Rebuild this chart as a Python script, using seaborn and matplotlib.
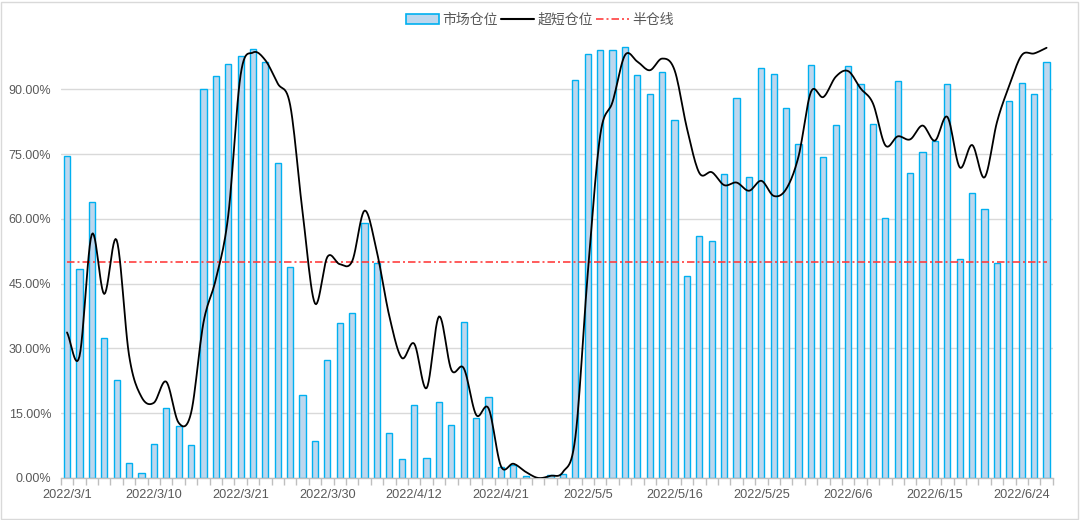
# 市场仓位 vs 超短仓位, 2022/3/1 - 2022/6/28
import matplotlib
matplotlib.use("Agg")
import matplotlib.pyplot as plt
from matplotlib.patches import Patch, Rectangle
from matplotlib.lines import Line2D
from matplotlib.ticker import PercentFormatter, FixedLocator
import seaborn as sns
import pandas as pd
import numpy as np

# trading days (A-share calendar, holidays removed)
holidays = ["2022-04-04", "2022-04-05", "2022-05-02", "2022-05-03", "2022-05-04", "2022-06-03"]
dates = pd.bdate_range("2022-03-01", "2022-06-28", freq="C", holidays=holidays)
date_labels = [f"{d.year}/{d.month}/{d.day}" for d in dates]

# 市场仓位 (%)
market = [74.5, 48.5, 63.8, 32.5, 22.8, 3.4, 1.2, 7.8, 16.2, 12.0,
          7.6, 90.1, 93.1, 95.9, 97.8, 99.4, 96.4, 72.9, 48.8, 19.1,
          8.6, 27.3, 35.9, 38.2, 59.1, 49.8, 10.3, 4.3, 17.0, 4.7,
          17.5, 12.3, 36.0, 14.0, 18.7, 2.6, 2.9, 0.5, 0.0, 0.8,
          0.9, 92.2, 98.2, 99.1, 99.0, 99.8, 93.3, 88.8, 94.0, 82.8,
          46.8, 56.1, 54.9, 70.4, 87.9, 69.8, 95.0, 93.6, 85.7, 77.3,
          95.6, 74.2, 81.8, 95.3, 91.2, 81.9, 60.1, 92.0, 70.7, 75.4,
          78.0, 91.3, 50.7, 66.0, 62.3, 49.8, 87.3, 91.5, 89.0, 96.4]

# 超短仓位 (%)
short_term = [33.7, 28.1, 56.4, 42.6, 55.1, 28.5, 18.8, 17.4, 22.3, 12.8,
              15.0, 35.9, 46.0, 60.7, 93.3, 98.5, 96.7, 91.3, 86.3, 61.5,
              40.4, 51.2, 49.5, 50.2, 61.9, 52.2, 37.4, 27.8, 31.1, 20.8,
              37.4, 25.0, 25.4, 14.6, 16.1, 2.7, 3.3, 1.4, 0.0, 0.5,
              1.4, 9.5, 47.5, 79.3, 87.1, 97.9, 96.4, 94.4, 97.1, 94.4,
              80.9, 70.6, 70.8, 67.8, 68.4, 66.5, 68.8, 65.3, 66.9, 74.5,
              89.4, 88.2, 92.9, 94.2, 90.2, 86.7, 77.0, 79.1, 78.4, 81.6,
              78.1, 83.6, 71.9, 77.1, 69.6, 82.4, 90.9, 97.9, 98.3, 99.6]

half_line = 50.0

df = pd.DataFrame({"date": date_labels,
                   "market": np.array(market) / 100,
                   "short": np.array(short_term) / 100})
df["pos"] = np.arange(len(df))


def smooth(y, n=12):
    # Excel-style smoothed line (cardinal spline through the points)
    y = np.asarray(y, dtype=float)
    m = np.empty_like(y)
    m[1:-1] = (y[2:] - y[:-2]) / 2
    m[0] = y[1] - y[0]
    m[-1] = y[-1] - y[-2]
    t = np.linspace(0, 1, n, endpoint=False)
    h00 = 2 * t**3 - 3 * t**2 + 1
    h10 = t**3 - 2 * t**2 + t
    h01 = -2 * t**3 + 3 * t**2
    h11 = t**3 - t**2
    xs, ys = [], []
    for i in range(len(y) - 1):
        xs.append(i + t)
        ys.append(h00 * y[i] + h10 * m[i] + h01 * y[i + 1] + h11 * m[i + 1])
    xs.append([len(y) - 1])
    ys.append([y[-1]])
    return np.concatenate(xs), np.concatenate(ys)


sns.set_theme(style="white")
plt.rcParams["font.family"] = ["Liberation Sans", "Noto Sans CJK SC", "DejaVu Sans"]

fig = plt.figure(figsize=(10.8, 5.2), dpi=100)
ax = fig.add_axes([0.0563, 0.0808, 0.9185, 0.868])

sns.barplot(data=df, x="pos", y="market", width=0.5, color="#BDD7EE",
            edgecolor="#00B0F0", linewidth=1.0, saturation=1, ax=ax, zorder=2)

dash = (0, (4.5, 1.8, 1.2, 1.8))
sx, sy = smooth(df["short"])
ax.plot(sx, sy, color="black", lw=1.3, zorder=4)
ax.plot(df["pos"], [half_line / 100] * len(df), color="#FF3F3F", lw=1.2,
        linestyle=dash, zorder=3)

ax.set_xlim(-0.5, len(df) - 0.5)
ax.set_ylim(0, 1.045)
ax.set_yticks(np.arange(0, 0.91, 0.15))
ax.yaxis.set_major_formatter(PercentFormatter(1.0, decimals=2))
ax.grid(axis="y", color="#D9D9D9", lw=1.0, zorder=0)
ax.set_axisbelow(True)

# category boundary ticks, labels every 7th day
ax.xaxis.set_major_locator(FixedLocator(np.arange(-0.5, len(df), 1.0)))
ax.set_xticklabels([])
ax.xaxis.set_minor_locator(FixedLocator(df["pos"][::7].to_numpy()))
ax.set_xticklabels(df["date"][::7], minor=True)
ax.tick_params(axis="x", which="major", length=5, width=1, color="#BFBFBF", direction="out", bottom=True)
ax.tick_params(axis="x", which="minor", length=0, pad=8, labelsize=9.2, labelcolor="#595959")
ax.tick_params(axis="y", length=0, pad=7, labelsize=9, labelcolor="#595959")
ax.set_xlabel("")
ax.set_ylabel("")

for side in ["left", "right", "top"]:
    ax.spines[side].set_visible(False)
ax.spines["bottom"].set_color("#BFBFBF")
ax.spines["bottom"].set_linewidth(1.0)

handles = [Patch(facecolor="#BDD7EE", edgecolor="#00B0F0", linewidth=1.2),
           Line2D([], [], color="black", lw=1.5),
           Line2D([], [], color="#FF3F3F", lw=1.2, linestyle=dash)]
fig.legend(handles, ["市场仓位", "超短仓位", "半仓线"], loc="center",
           bbox_to_anchor=(0.5, 1 - 20 / 520), ncol=3, frameon=False,
           labelcolor="#595959", handlelength=2.4, handleheight=0.8,
           handletextpad=0.25, columnspacing=0.2,
           prop={"family": ["Noto Sans CJK SC", "DejaVu Sans"], "size": 10})

fig.add_artist(Rectangle((0.001, 0.002), 0.997, 0.995, transform=fig.transFigure,
                         fill=False, edgecolor="#D9D9D9", lw=1.0))

fig.savefig("out.png", dpi=100)
